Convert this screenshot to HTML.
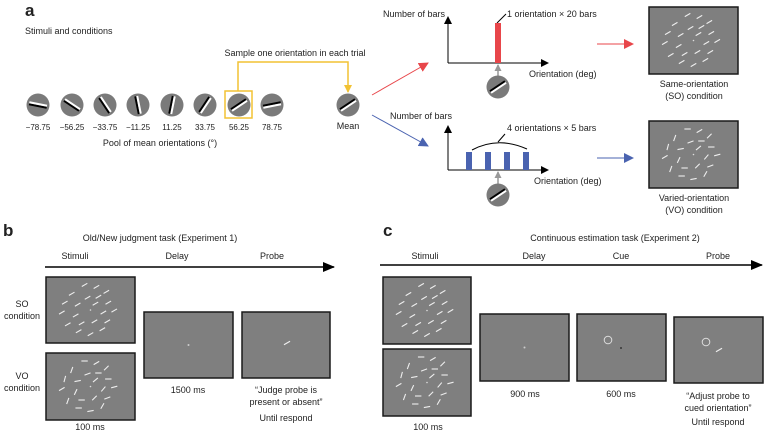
<!DOCTYPE html>
<html><head><meta charset="utf-8"><style>
html,body{margin:0;padding:0;background:#fff;}
svg{display:block;font-family:"Liberation Sans",Arial,sans-serif;}
</style></head><body>
<svg id="s" width="764" height="432" viewBox="0 0 764 432" xmlns="http://www.w3.org/2000/svg">
<defs>
<marker id="ak" markerWidth="8" markerHeight="8" refX="7" refY="4" orient="auto" markerUnits="userSpaceOnUse"><path d="M0,0 L8,4 L0,8 z" fill="#000"/></marker>
<marker id="ar" markerWidth="10" markerHeight="10" refX="9" refY="5" orient="auto" markerUnits="userSpaceOnUse"><path d="M0,0 L10,5 L0,10 z" fill="#e8464a"/></marker>
<marker id="ab" markerWidth="10" markerHeight="10" refX="9" refY="5" orient="auto" markerUnits="userSpaceOnUse"><path d="M0,0 L10,5 L0,10 z" fill="#4a63b0"/></marker>
<marker id="ay" markerWidth="8" markerHeight="8" refX="7" refY="4" orient="auto" markerUnits="userSpaceOnUse"><path d="M0,0 L8,4 L0,8 z" fill="#f2c233"/></marker>
<marker id="ag" markerWidth="7" markerHeight="7" refX="6" refY="3.5" orient="auto" markerUnits="userSpaceOnUse"><path d="M0,0 L7,3.5 L0,7 z" fill="#999"/></marker>
<marker id="aK" markerWidth="12" markerHeight="10" refX="11" refY="5" orient="auto" markerUnits="userSpaceOnUse"><path d="M0,0 L12,5 L0,10 z" fill="#000"/></marker>
</defs>
<g font-size="9" fill="#222">
<text x="25" y="16" font-size="17" font-weight="bold">a</text>
<text x="25" y="34">Stimuli and conditions</text>
<text x="295" y="56" text-anchor="middle">Sample one orientation in each trial</text>
<g font-size="8" text-anchor="middle">
<text x="38" y="130">−78.75</text><text x="72" y="130">−56.25</text><text x="105" y="130">−33.75</text><text x="138" y="130">−11.25</text>
<text x="172" y="130">11.25</text><text x="205" y="130">33.75</text><text x="239" y="130">56.25</text><text x="272" y="130">78.75</text>
</g>
<text x="160" y="146" text-anchor="middle">Pool of mean orientations (°)</text>
<text x="348" y="129" text-anchor="middle">Mean</text>
<text x="383" y="17">Number of bars</text>
<text x="507" y="17">1 orientation × 20 bars</text>
<text x="529" y="77">Orientation (deg)</text>
<text x="390" y="119">Number of bars</text>
<text x="507" y="131">4 orientations × 5 bars</text>
<text x="534" y="184">Orientation (deg)</text>
<g text-anchor="middle">
<text x="694" y="87">Same-orientation</text><text x="694" y="99">(SO) condition</text>
<text x="694" y="201">Varied-orientation</text><text x="694" y="213">(VO) condition</text>
</g>
<text x="3" y="236" font-size="17" font-weight="bold">b</text>
<text x="160" y="241" text-anchor="middle">Old/New judgment task (Experiment 1)</text>
<g text-anchor="middle">
<text x="75" y="259">Stimuli</text><text x="177" y="259">Delay</text><text x="272" y="259">Probe</text>
<text x="22" y="307">SO</text><text x="22" y="319">condition</text>
<text x="22" y="379">VO</text><text x="22" y="391">condition</text>
<text x="188" y="393">1500 ms</text>
<text x="286" y="393">“Judge probe is</text><text x="286" y="405">present or absent”</text>
<text x="286" y="421">Until respond</text>
<text x="90" y="430">100 ms</text>
</g>
<text x="383" y="236" font-size="17" font-weight="bold">c</text>
<text x="615" y="241" text-anchor="middle">Continuous estimation task (Experiment 2)</text>
<g text-anchor="middle">
<text x="425" y="259">Stimuli</text><text x="534" y="259">Delay</text><text x="621" y="259">Cue</text><text x="718" y="259">Probe</text>
<text x="525" y="397">900 ms</text><text x="621" y="397">600 ms</text>
<text x="718" y="399">“Adjust probe to</text><text x="718" y="411">cued orientation”</text>
<text x="718" y="425">Until respond</text>
<text x="428" y="430">100 ms</text>
</g>
</g>
<!-- yellow -->
<rect x="225" y="91" width="27" height="27" fill="none" stroke="#f2c233" stroke-width="1.5"/>
<polyline points="238,91 238,62 348,62 348,92" fill="none" stroke="#f2c233" stroke-width="1.5" marker-end="url(#ay)"/>
<!-- red/blue arrows -->
<line x1="372" y1="95" x2="428" y2="63" stroke="#e8464a" stroke-width="1" marker-end="url(#ar)"/>
<line x1="372" y1="115" x2="428" y2="146" stroke="#4a63b0" stroke-width="1" marker-end="url(#ab)"/>
<line x1="597" y1="44" x2="633" y2="44" stroke="#e8464a" stroke-width="1" marker-end="url(#ar)"/>
<line x1="597" y1="158" x2="633" y2="158" stroke="#4a63b0" stroke-width="1" marker-end="url(#ab)"/>
<!-- charts -->
<g stroke="#000" stroke-width="1" fill="none">
<line x1="448" y1="63" x2="448" y2="17" marker-end="url(#ak)"/>
<line x1="448" y1="63" x2="548" y2="63" marker-end="url(#ak)"/>
<line x1="448" y1="170" x2="448" y2="126" marker-end="url(#ak)"/>
<line x1="448" y1="170" x2="548" y2="170" marker-end="url(#ak)"/>
<line x1="497" y1="23" x2="506" y2="14"/>
<path d="M472,150 Q498,136 527,149"/>
<line x1="498" y1="142" x2="505" y2="134"/>
</g>
<rect x="495" y="23" width="6" height="40" fill="#e8464a"/>
<g fill="#4a63b0"><rect x="466" y="152" width="6" height="18"/><rect x="485" y="152" width="6" height="18"/><rect x="504" y="152" width="6" height="18"/><rect x="523" y="152" width="6" height="18"/></g>
<line x1="498" y1="76" x2="498" y2="65" stroke="#999" stroke-width="1.5" marker-end="url(#ag)"/>
<line x1="498" y1="184" x2="498" y2="172" stroke="#999" stroke-width="1.5" marker-end="url(#ag)"/>
<!-- timelines -->
<line x1="45" y1="267" x2="334" y2="267" stroke="#000" stroke-width="1.5" marker-end="url(#aK)"/>
<line x1="380" y1="265" x2="762" y2="265" stroke="#000" stroke-width="1.5" marker-end="url(#aK)"/>
<g id="dyn"></g>
</svg>
<script>
var g=document.getElementById('dyn'),h='';
function disc(cx,cy,deg){
 h+='<circle cx="'+cx+'" cy="'+cy+'" r="11.5" fill="#7a7a7a"/>';
 h+='<g transform="translate('+cx+','+cy+') rotate('+deg+')"><line x1="-1" y1="-9" x2="-1" y2="9" stroke="#000" stroke-width="2"/><line x1="1" y1="-9" x2="1" y2="9" stroke="#fff" stroke-width="2"/></g>';
}
var xs=[38,72,105,138,172,205,239,272],os=[-78.75,-56.25,-33.75,-11.25,11.25,33.75,56.25,78.75];
for(var i=0;i<8;i++)disc(xs[i],105,os[i]);
disc(348,105,56.25);disc(498,87,56.25);disc(498,195,56.25);
var P=[[39,5],[51,7],[61,12],[26,14],[42,18],[53,17],[19,23],[32,25],[50,24],[63,23],[16,33],[30,36],[58,33],[69,31],[22,45],[36,44],[49,42],[62,42],[33,52],[45,55],[57,50]];
var V=[60,30,45,-20,-70,0,30,-20,50,0,60,15,40,-30,20,0,45,-70,0,5,-60];
function box(x,y,w,hh,kind){
 h+='<rect x="'+x+'" y="'+y+'" width="'+w+'" height="'+hh+'" fill="#7f7f7f" stroke="#1a1a1a" stroke-width="1.5"/>';
 var sx=w/90,sy=hh/67;
 if(kind=='so'||kind=='vo'){
  for(var i=0;i<P.length;i++){var a=kind=='so'?60:V[i]+(V[i]<0?0:0);if(kind=='vo')a=[90,60,45,20,70,90,15,80,50,90,60,25,40,75,20,90,45,70,90,80,30][i];
   h+='<g transform="translate('+(x+P[i][0]*sx)+','+(y+P[i][1]*sy+3)+') rotate('+a+')"><line x1="0" y1="-3.2" x2="0" y2="3.2" stroke="#eee" stroke-width="1.1"/></g>';}
  h+='<circle cx="'+(x+w/2)+'" cy="'+(y+hh/2)+'" r="0.8" fill="#ddd"/>';
 }
 if(kind=='fix')h+='<circle cx="'+(x+w/2)+'" cy="'+(y+hh/2)+'" r="1" fill="#ccc"/>';
 if(kind=='probe')h+='<g transform="translate('+(x+w/2+1)+','+(y+hh/2-2)+') rotate(60)"><line x1="0" y1="-3.5" x2="0" y2="3.5" stroke="#eee" stroke-width="1.2"/></g>';
 if(kind=='cue'){h+='<circle cx="'+(x+31)+'" cy="'+(y+26)+'" r="3.8" fill="none" stroke="#ddd" stroke-width="1"/><circle cx="'+(x+44)+'" cy="'+(y+34)+'" r="0.9" fill="#222"/>';}
 if(kind=='cp'){h+='<circle cx="'+(x+32)+'" cy="'+(y+25)+'" r="3.8" fill="none" stroke="#ddd" stroke-width="1"/><g transform="translate('+(x+45)+','+(y+33)+') rotate(60)"><line x1="0" y1="-3.5" x2="0" y2="3.5" stroke="#eee" stroke-width="1.2"/></g>';}
}
box(649,7,89,67,'so');box(649,121,89,67,'vo');
box(46,277,89,66,'so');box(46,353,89,67,'vo');
box(144,312,89,66,'fix');box(242,312,88,66,'probe');
box(383,277,88,67,'so');box(383,349,88,67,'vo');
box(480,314,89,67,'fix');box(577,314,89,67,'cue');box(674,317,89,66,'cp');
g.innerHTML=h;
</script>
</body></html>
